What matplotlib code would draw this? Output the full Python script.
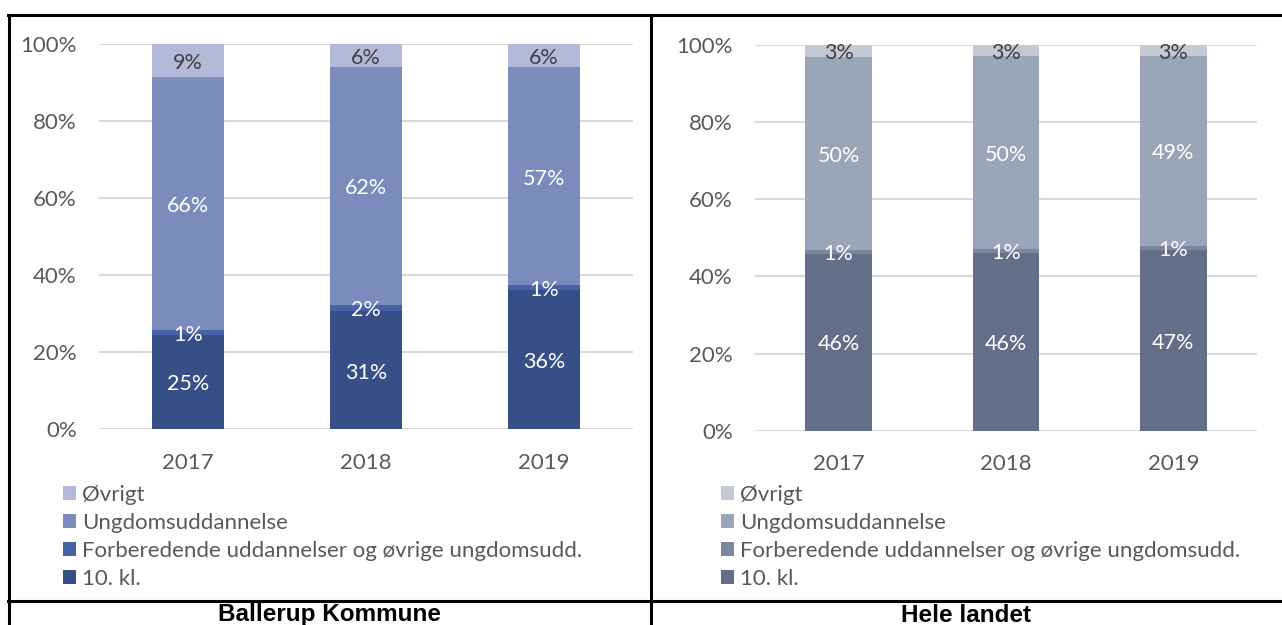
import matplotlib.pyplot as plt
import numpy as np
from matplotlib.lines import Line2D
from matplotlib.patches import Patch

years = ['2017', '2018', '2019']
series = ['10. kl.', 'Forberedende uddannelser og øvrige ungdomsudd.',
          'Ungdomsuddannelse', 'Øvrigt']

# shares in percent
ballerup_10kl = [24.6, 30.7, 36.1]
ballerup_forb = [1.2, 1.6, 1.3]
ballerup_ungdom = [65.6, 61.8, 56.6]
ballerup_ovrigt = [8.6, 5.9, 6.0]

landet_10kl = [45.9, 46.2, 46.9]
landet_forb = [0.9, 0.8, 1.0]
landet_ungdom = [50.1, 50.1, 49.2]
landet_ovrigt = [3.1, 2.9, 2.9]

ballerup_colors = ['#374F87', '#4862A8', '#7B8BBB', '#B4B9D7']
landet_colors = ['#636F88', '#7B879E', '#9AA5B8', '#C5C9D3']

FONT = 'Lato'
FS = 16
plt.rcParams['font.family'] = [FONT, 'DejaVu Sans']


def draw_panel(ax, data, colors, label_colors):
    x = np.arange(len(years))
    bottom = np.zeros(len(years))
    for vals, col, lcol in zip(data, colors, label_colors):
        vals = np.array(vals)
        ax.bar(x, vals, 0.40, bottom=bottom, color=col, zorder=3)
        for xi, b, v in zip(x, bottom, vals):
            ax.text(xi, b + v / 2 - 0.6, f'{v:.0f}%', ha='center', va='center',
                    color=lcol, fontsize=15.5, zorder=4)
        bottom += vals
    ax.set_xlim(-0.5, 2.5)
    ax.set_ylim(0, 100)
    ax.set_yticks([0, 20, 40, 60, 80, 100])
    ax.set_yticklabels([f'{t}%' for t in [0, 20, 40, 60, 80, 100]])
    ax.set_xticks(x)
    ax.set_xticklabels(years)
    ax.grid(axis='y', color='#D9D9D9', linewidth=1.5, zorder=0)
    for s in ax.spines.values():
        s.set_visible(False)
    ax.tick_params(length=0, labelsize=FS, colors='#595959')
    ax.tick_params(axis='y', pad=16)
    ax.tick_params(axis='x', pad=17)


fig = plt.figure(figsize=(12.82, 6.25), dpi=100)
W, H = 1282, 625

ax1 = fig.add_axes([99 / W, 1 - 429.3 / H, 534 / W, 385 / H])
ax2 = fig.add_axes([755 / W, 1 - 430.7 / H, 502 / W, 385.7 / H])

lab_cols = ['white', 'white', 'white', '#404040']
draw_panel(ax1, [ballerup_10kl, ballerup_forb, ballerup_ungdom, ballerup_ovrigt],
           ballerup_colors, lab_cols)
draw_panel(ax2, [landet_10kl, landet_forb, landet_ungdom, landet_ovrigt],
           landet_colors, lab_cols)

# legends (reverse order, as in the source)
for colors, x0 in [(ballerup_colors, 63), (landet_colors, 721)]:
    handles = [Patch(facecolor=c) for c in colors[::-1]]
    fig.legend(handles, series[::-1], loc='upper left',
               bbox_to_anchor=(x0 / W, 1 - 485 / H), frameon=False,
               fontsize=FS, labelcolor='#595959', handlelength=0.6,
               handleheight=0.6, handletextpad=0.25, labelspacing=0.36,
               borderpad=0, borderaxespad=0)

# table borders
lw = 2.2
fig.add_artist(Line2D([8 / W, 1], [1 - 15 / H] * 2, color='black', lw=lw))
fig.add_artist(Line2D([8 / W, 1], [1 - 601 / H] * 2, color='black', lw=lw))
fig.add_artist(Line2D([9 / W] * 2, [0, 1 - 15 / H], color='black', lw=lw))
fig.add_artist(Line2D([651 / W] * 2, [0, 1 - 15 / H], color='black', lw=lw))

fig.text(330 / W, 1 - 615 / H, 'Ballerup Kommune', ha='center', va='center',
         fontsize=17.5, fontweight='bold', family='Liberation Sans')
fig.text(966 / W, 1 - 615 / H, 'Hele landet', ha='center', va='center',
         fontsize=17.5, fontweight='bold', family='Liberation Sans')

fig.savefig('out.png', dpi=100, facecolor='white')
